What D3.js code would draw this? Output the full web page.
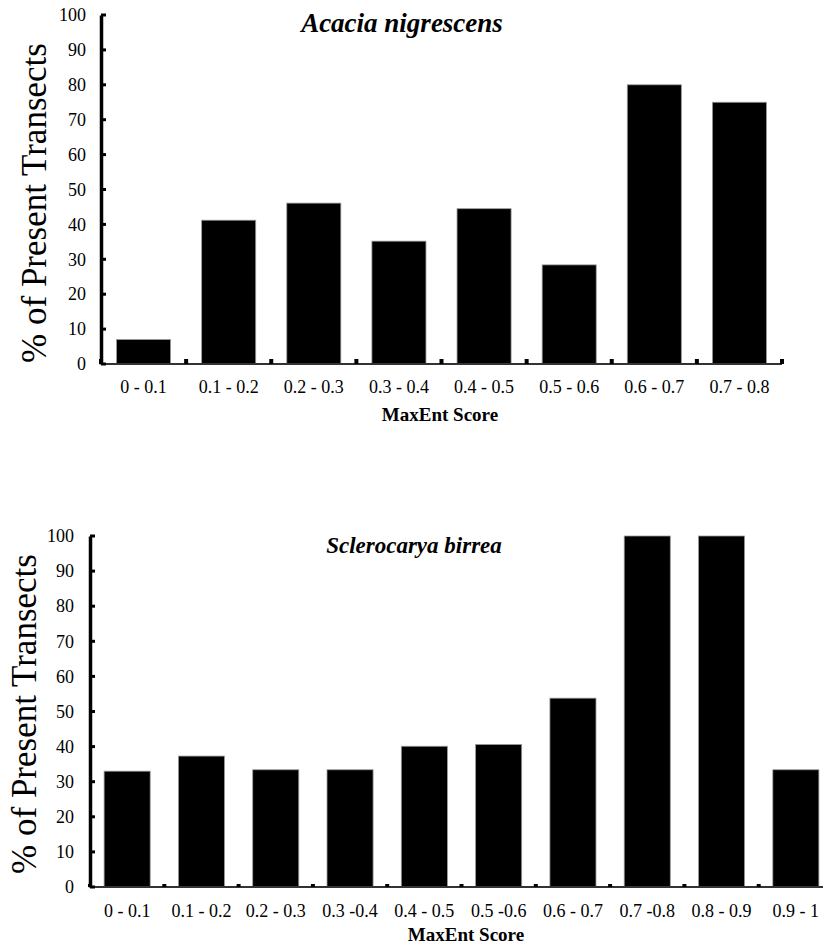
<!DOCTYPE html>
<html><head><meta charset="utf-8">
<script src="https://cdn.jsdelivr.net/npm/d3@7"></script>
<style>body{margin:0;background:#fff}svg{display:block}</style>
</head><body><svg id="c" width="823" height="947"></svg>
<script>
const cats1 = ["0 - 0.1","0.1 - 0.2","0.2 - 0.3","0.3 - 0.4","0.4 - 0.5","0.5 - 0.6","0.6 - 0.7","0.7 - 0.8"];
const vals1 = [7, 41.2, 46.1, 35.2, 44.5, 28.4, 80, 75];
const cats2 = ["0 - 0.1","0.1 - 0.2","0.2 - 0.3","0.3 -0.4","0.4 - 0.5","0.5 -0.6","0.6 - 0.7","0.7 -0.8","0.8 - 0.9","0.9 - 1"];
const vals2 = [33, 37.3, 33.4, 33.4, 40.1, 40.6, 53.8, 100, 100, 33.4];
const yTicks = [0,10,20,30,40,50,60,70,80,90,100];
const title1 = "Acacia nigrescens", title2 = "Sclerocarya birrea";
const yLabel = "% of Present Transects", xLabel = "MaxEnt Score";
const FF = "'Liberation Serif', 'DejaVu Serif', serif";

const svg = d3.select("#c");
function panel(cfg){
  const g = svg.append("g");
  const x = d3.scaleBand().domain(cfg.cats).range([cfg.x0, cfg.x1]).paddingInner(cfg.pad).paddingOuter(cfg.pad/2);
  const xt = d3.scaleBand().domain(cfg.cats).range([cfg.x0, cfg.x1]);
  const y = d3.scaleLinear().domain([0,100]).range([cfg.yb, cfg.yt]);
  g.selectAll("rect.bar").data(cfg.vals).join("rect")
    .attr("x",(d,i)=>x(cfg.cats[i])).attr("width",x.bandwidth())
    .attr("y",d=>y(d)).attr("height",d=>y(0)-y(d))
    .attr("fill","#000").attr("stroke","#999").attr("stroke-width",0.8);
  g.append("line").attr("x1",cfg.x0).attr("x2",cfg.x1).attr("y1",y(0)).attr("y2",y(0))
    .attr("stroke","#333").attr("stroke-width",2);
  const bounds = cfg.cats.map(c=>xt(c)).concat([cfg.x1]);
  g.selectAll("rect.xt").data(bounds).join("rect")
    .attr("x",d=>d-2).attr("width",4).attr("y",y(0)-cfg.xtick).attr("height",cfg.xtick)
    .attr("fill","#000");
  g.selectAll("text.xl").data(cfg.cats).join("text")
    .attr("x",d=>xt(d)+xt.bandwidth()/2).attr("y",cfg.xly)
    .attr("text-anchor","middle").style("font-family",FF).style("font-size","18px").text(d=>d);
  const ya = d3.axisLeft(y).tickValues(yTicks).tickSize(0).tickPadding(cfg.tpad);
  const ag = g.append("g").attr("transform",`translate(${cfg.x0},0)`).call(ya);
  ag.select(".domain").attr("stroke","#000").attr("stroke-width",3.5);
  ag.selectAll("text").attr("fill","#000").style("font-family",FF).style("font-size","18px");
  g.selectAll("line.yt").data(yTicks).join("line")
    .attr("x1",cfg.x0).attr("x2",cfg.x0+5).attr("y1",d=>y(d)).attr("y2",d=>y(d))
    .attr("stroke","#000").attr("stroke-width",3);
  g.append("text").attr("x",cfg.tx).attr("y",cfg.ty).attr("text-anchor","middle")
    .style("font-family",FF).style("font-size",cfg.tfs+"px").style("font-weight","bold").style("font-style","italic").text(cfg.title);
  g.append("text").attr("transform",`translate(${cfg.ylx},${cfg.ylc}) rotate(-90)`)
    .attr("text-anchor","middle").style("font-family",FF).style("font-size","35px").text(yLabel);
  g.append("text").attr("x",cfg.xlx).attr("y",cfg.xty).attr("text-anchor","middle")
    .style("font-family",FF).style("font-size","19px").style("font-weight","bold").text(xLabel);
}
panel({cats:cats1, vals:vals1, x0:101, x1:782, yt:15, yb:364, pad:0.365, xtick:5, xly:393, tpad:15,
  title:title1, tfs:27, tx:402, ty:32, ylx:46, ylc:203, xlx:440, xty:421});
panel({cats:cats2, vals:vals2, x0:90, x1:833, yt:536, yb:887, pad:0.38, xtick:3, xly:917, tpad:16,
  title:title2, tfs:23, tx:414, ty:553, ylx:36, ylc:714, xlx:466, xty:941});
</script></body></html>
